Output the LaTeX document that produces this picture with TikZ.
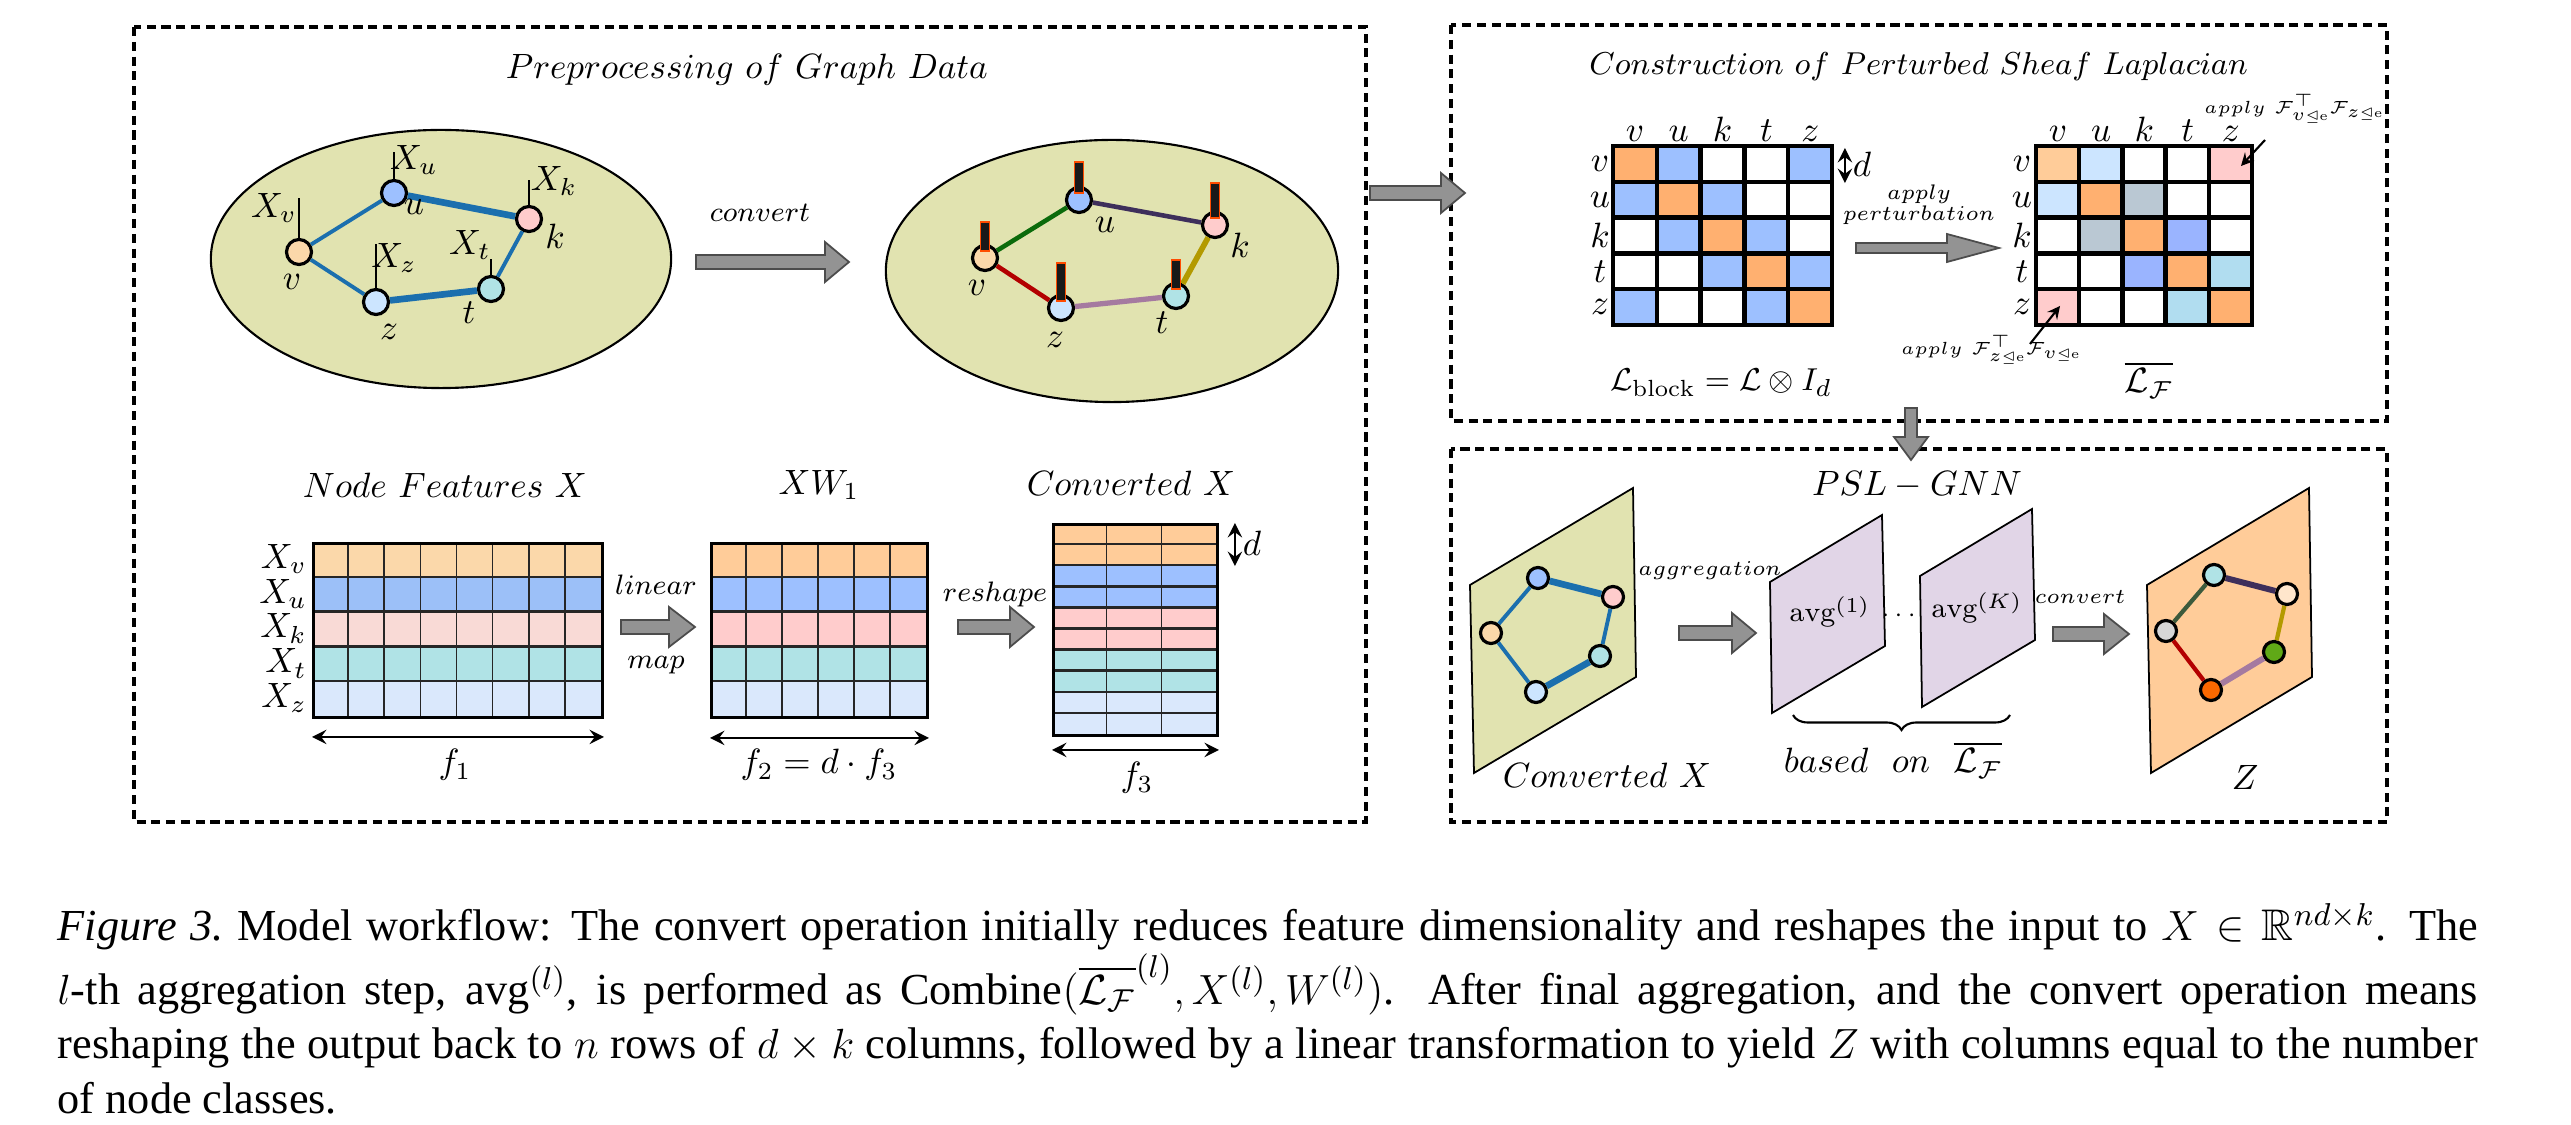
\documentclass[tikz,border=0pt]{standalone}
\usepackage{amsmath,amssymb}
\usepackage{fontspec}
\newfontfamily\capfont{Liberation Serif}
\usetikzlibrary{decorations.pathreplacing}

\definecolor{meadow}{HTML}{E1E3B0}
\definecolor{lilac}{HTML}{E1D5E7}
\definecolor{peach}{HTML}{FFCC99}
\definecolor{peachlt}{HTML}{FBD8AA}
\definecolor{skyblue}{HTML}{9DC0FF}
\definecolor{skybluelt}{HTML}{9CC0F8}
\definecolor{rose}{HTML}{FFCCCC}
\definecolor{roselt}{HTML}{F9DAD6}
\definecolor{aqua}{HTML}{B0E3E6}
\definecolor{ice}{HTML}{DAE8FC}
\definecolor{icelt}{HTML}{CCE5FF}
\definecolor{lapdiag}{HTML}{FFB070}
\definecolor{slate}{HTML}{BAC8D3}
\definecolor{periwinkle}{HTML}{9AB4FF}
\definecolor{cyanlt}{HTML}{B1DDF0}
\definecolor{edgeblue}{HTML}{1B6FAE}
\definecolor{arrowgray}{HTML}{939393}
\definecolor{egreen}{HTML}{0B6B0B}
\definecolor{egreengray}{HTML}{3C5A3C}
\definecolor{epurple}{HTML}{3E2F5B}
\definecolor{egold}{HTML}{B39A00}
\definecolor{emauve}{HTML}{A57AA0}
\definecolor{ered}{HTML}{B30000}
\definecolor{peachpale}{HTML}{FFE6CC}
\definecolor{greylt}{HTML}{D6D6D6}
\definecolor{leaf}{HTML}{60A917}
\definecolor{tangerine}{HTML}{FA6800}

% block arrow: start x, tip x, mid y, head start x, shaft half, head half
\newcommand{\blockarrow}[6]{%
  \filldraw[blockarrow] (#1,#3-#5) -- (#4,#3-#5) -- (#4,#3-#6) -- (#2,#3)
    -- (#4,#3+#6) -- (#4,#3+#5) -- (#1,#3+#5) -- cycle;}

\begin{document}
\begin{tikzpicture}[x=0.01cm,y=-0.01cm,>=stealth,
    font=\fontsize{10}{12}\selectfont,
    panel/.style={draw,line width=0.9pt,dash pattern=on 2.6pt off 1.6pt},
    gnode/.style={circle,draw,line width=0.9pt,minimum size=0.25cm,inner sep=0pt},
    snode/.style={circle,draw,line width=0.9pt,minimum size=0.21cm,inner sep=0pt},
    blockarrow/.style={fill=arrowgray,draw=black!70,line width=0.5pt},
    cell/.style={draw=black!85,line width=0.7pt},
    thincell/.style={draw=black!85,line width=0.45pt},
    lapcell/.style={draw=black,line width=1.3pt},
    mat/.style={draw,line width=0.8pt,anchor=north west,inner sep=0pt},
    smalltxt/.style={font=\fontsize{8.5}{10}\selectfont},
    tinytxt/.style={font=\fontsize{6}{7}\selectfont},
    pertxt/.style={font=\fontsize{5.6}{7}\selectfont},
    notetxt/.style={font=\fontsize{5.4}{7}\selectfont},
    sheaf/.style={fill=black!90,draw=orange!60!red,line width=0.5pt}]
\useasboundingbox (0,0) rectangle (2571,1125);

% panels
\draw[panel] (134,27) rectangle (1366,822);
\draw[panel] (1451,25) rectangle (2387,421);
\draw[panel] (1451,449) rectangle (2387,822);

\node (prepTitle) at (747,70) {$Preprocessing~of~Graph~Data$};
\node[font=\fontsize{9.5}{11}\selectfont] (lapTitle) at (1919,67) {$Construction~of~Perturbed~Sheaf~Laplacian$};
\node (gnnTitle) at (1917,485) {$PSL-GNN$};

% ---- input graph
\filldraw[fill=meadow,draw=black,line width=0.6pt] (441,259) ellipse [x radius=2.30cm,y radius=1.29cm];
\foreach \n/\x/\y/\c in {v/299/252/peachlt,u/394/193/skyblue,k/529/219/rose,z/376/302/icelt,t/491/289/aqua}
  \node[gnode,fill=\c] (a\n) at (\x,\y) {};
\draw[edgeblue,line width=1.1pt] (av) -- (au);
\draw[edgeblue,line width=1.9pt] (au) -- (ak);
\draw[edgeblue,line width=1.1pt] (ak) -- (at);
\draw[edgeblue,line width=1.9pt] (at) -- (az);
\draw[edgeblue,line width=1.1pt] (az) -- (av);
\foreach \n/\h in {v/40,u/27,k/25,z/44,t/16}
  \draw[line width=0.5pt] (a\n.north) -- ++(0,-\h);
\node (xv) at (274,208) {$X_v$};
\node (xu) at (414,160) {$X_u$};
\node (xk) at (554,181) {$X_k$};
\node (xz) at (394,258) {$X_z$};
\node (xt) at (470,245) {$X_t$};
\node (lv) at (292,282) {$v$};
\node (lu) at (414,207) {$u$};
\node (lk) at (555,236) {$k$};
\node (lz) at (389,332) {$z$};
\node (lt) at (469,313) {$t$};

\node[smalltxt] (convTop) at (760,213) {$convert$};
\blockarrow{696}{849}{262}{825}{7}{20}

% ---- sheaf graph
\filldraw[fill=meadow,draw=black,line width=0.6pt] (1112,271) ellipse [x radius=2.26cm,y radius=1.31cm];
\foreach \n/\x/\y/\c in {v/985/258/peachlt,u/1079/200/skyblue,k/1215/225/rose,z/1061/308/icelt,t/1176/296/aqua}
  \node[gnode,fill=\c] (b\n) at (\x,\y) {};
\draw[egreen,line width=1.3pt] (bv) -- (bu);
\draw[epurple,line width=1.3pt] (bu) -- (bk);
\draw[egold,line width=1.6pt] (bk) -- (bt);
\draw[emauve,line width=1.5pt] (bt) -- (bz);
\draw[ered,line width=1.3pt] (bz) -- (bv);
\foreach \x/\y/\h in {1079/200/31,1215/225/35,985/258/29,1061/308/38,1176/296/29}
  \draw[sheaf] (\x-4.5,\y-7) rectangle (\x+4.5,\y-7-\h);
\node (mv) at (977,288) {$v$};
\node (mu) at (1105,225) {$u$};
\node (mk) at (1240,245) {$k$};
\node (mz) at (1055,340) {$z$};
\node (mt) at (1162,323) {$t$};

% ---- feature matrices
\node (featTitle) at (445,485) {$Node~Features~X$};
\node (xwTitle) at (819,485) {$XW_1$};
\node (convTitle) at (1131,483) {$Converted~X$};

\foreach \c [count=\r from 0] in {peachlt,skybluelt,roselt,aqua,ice}
  \fill[\c] (312,{542+\r*34.8}) rectangle (601,{542+(\r+1)*34.8});
\foreach \r in {1,...,4} \draw[cell] (312,{542+\r*34.8}) -- (601,{542+\r*34.8});
\foreach \i in {1,...,7} \draw[thincell] ({312+\i*36.125},542) -- ({312+\i*36.125},716);
\node[mat,minimum width=2.89cm,minimum height=1.74cm] (featX) at (312,542) {};
\foreach \l [count=\r from 0] in {v,u,k,t,z}
  \node[anchor=east,inner sep=1pt] (row\l) at (311,{559+\r*34.8}) {$X_\l$};
\draw[<->,line width=0.8pt] ([yshift=-0.18cm]featX.south west) -- ([yshift=-0.18cm]featX.south east);
\node (fone) at (455,765) {$f_1$};

\node[smalltxt] (linTxt) at (656,585) {$linear$};
\node[smalltxt] (mapTxt) at (656,665) {$map$};
\blockarrow{621}{695}{627}{669}{7}{20}

\foreach \c [count=\r from 0] in {peach,skyblue,rose,aqua,ice}
  \fill[\c] (710,{542+\r*34.8}) rectangle (926,{542+(\r+1)*34.8});
\foreach \r in {1,...,4} \draw[cell] (710,{542+\r*34.8}) -- (926,{542+\r*34.8});
\foreach \i in {1,...,5} \draw[thincell] ({710+\i*36},542) -- ({710+\i*36},716);
\node[mat,minimum width=2.16cm,minimum height=1.74cm] (featXW) at (710,542) {};
\draw[<->,line width=0.8pt] ([yshift=-0.19cm]featXW.south west) -- ([yshift=-0.19cm]featXW.south east);
\node (ftwo) at (819,765) {$f_2=d\cdot f_3$};

\node[smalltxt] (reshTxt) at (995,594) {$reshape$};
\blockarrow{958}{1034}{627}{1010}{7}{20}

\foreach \c [count=\r from 0] in {peach,peach,skyblue,skyblue,rose,rose,aqua,aqua,ice,ice}
  \fill[\c] (1052,{523+\r*21.1}) rectangle (1216,{523+(\r+1)*21.1});
\foreach \r in {1,...,9} \draw[cell] (1052,{523+\r*21.1}) -- (1216,{523+\r*21.1});
\foreach \i in {1,2} \draw[thincell] ({1052+\i*54.67},523) -- ({1052+\i*54.67},734);
\node[mat,minimum width=1.64cm,minimum height=2.11cm] (featConv) at (1052,523) {};
\draw[<->,line width=0.8pt] ([xshift=0.16cm]featConv.north east) -- ([xshift=0.16cm,yshift=-0.43cm]featConv.north east);
\node (dconv) at (1252,543) {$d$};
\draw[<->,line width=0.8pt] ([yshift=-0.13cm]featConv.south west) -- ([yshift=-0.13cm]featConv.south east);
\node (fthree) at (1137,778) {$f_3$};

% ---- arrow into the sheaf Laplacian panel
\blockarrow{1370}{1465}{193}{1441}{7}{20}

% ---- sheaf Laplacians
\foreach \row [count=\i from 0] in {{lapdiag,skyblue,white,white,skyblue},{skyblue,lapdiag,skyblue,white,white},{white,skyblue,lapdiag,skyblue,white},{white,white,skyblue,lapdiag,skyblue},{skyblue,white,white,skyblue,lapdiag}}
  \foreach \c [count=\j from 0] in \row
    \filldraw[fill=\c,lapcell] ({1613+\j*43.8},{146+\i*35.8}) rectangle ++(43.8,35.8);
\node[mat,draw=none,minimum width=2.19cm,minimum height=1.79cm] (lapBlock) at (1613,146) {};
\foreach \l [count=\j from 0] in {v,u,k,t,z} {
  \node[anchor=base] (bcol\j) at ({1635+\j*43.8},142) {$\l$};
  \node (brow\j) at (1600,{164+\j*35.8}) {$\l$};
}
\draw[<->,line width=0.8pt] ([xshift=0.1cm,yshift=-0.02cm]lapBlock.north east) -- ([xshift=0.1cm,yshift=-0.37cm]lapBlock.north east);
\node (dlap) at (1862,164) {$d$};
\node[font=\fontsize{9.5}{11}\selectfont] (blockTxt) at (1721,383) {$\mathcal{L}_{\mathrm{block}}=\mathcal{L}\otimes I_d$};

\node[pertxt] (applyTxt) at (1919,194) {$apply$};
\node[pertxt] (pertTxt) at (1919,215) {$perturbation$};
\blockarrow{1856}{1999}{248}{1947}{5}{14}

\foreach \row [count=\i from 0] in {{peach,icelt,white,white,rose},{icelt,lapdiag,slate,white,white},{white,slate,lapdiag,periwinkle,white},{white,white,periwinkle,lapdiag,cyanlt},{rose,white,white,cyanlt,lapdiag}}
  \foreach \c [count=\j from 0] in \row
    \filldraw[fill=\c,lapcell] ({2036+\j*43.2},{146+\i*35.8}) rectangle ++(43.2,35.8);
\foreach \l [count=\j from 0] in {v,u,k,t,z} {
  \node[anchor=base] (pcol\j) at ({2058+\j*43.2},142) {$\l$};
  \node (prow\j) at (2022,{164+\j*35.8}) {$\l$};
}
\node (lapF) at (2149,380) {$\overline{\mathcal{L}_{\mathcal{F}}}$};

\node[notetxt] (noteTop) at (2294,109) {$apply~\mathcal{F}^{\top}_{v\trianglelefteq \mathrm{e}}\mathcal{F}_{z\trianglelefteq \mathrm{e}}$};
\node[notetxt] (noteBot) at (1991,350) {$apply~\mathcal{F}^{\top}_{z\trianglelefteq \mathrm{e}}\mathcal{F}_{v\trianglelefteq \mathrm{e}}$};
\coordinate (cellvz) at (2241,166);
\coordinate (cellzv) at (2060,306);
\draw[->,line width=0.6pt] (noteTop) ++(-29,31) -- (cellvz);
\draw[->,line width=0.6pt] (noteBot) ++(39,-6) -- (cellzv);

% ---- down into the GNN panel
\filldraw[blockarrow] (1905,408) -- (1917,408) -- (1917,437) -- (1928,437) -- (1911,460)
  -- (1894,437) -- (1905,437) -- cycle;

% ---- PSL-GNN
\filldraw[fill=meadow,draw=black,line width=0.5pt] (1474,773) -- (1470,585) -- (1633,488) -- (1636,677) -- cycle;
\foreach \n/\x/\y/\c in {v/1491/633/peachlt,u/1538/578/skyblue,k/1613/597/rose,z/1536/692/icelt,t/1600/656/aqua}
  \node[snode,fill=\c] (c\n) at (\x,\y) {};
\draw[edgeblue,line width=1.1pt] (cv) -- (cu);
\draw[edgeblue,line width=1.9pt] (cu) -- (ck);
\draw[edgeblue,line width=1.1pt] (ck) -- (ct);
\draw[edgeblue,line width=1.9pt] (ct) -- (cz);
\draw[edgeblue,line width=1.1pt] (cz) -- (cv);
\node (convXTxt) at (1607,775) {$Converted~X$};

\node[tinytxt] (aggTxt) at (1710,571) {$aggregation$};
\blockarrow{1679}{1756}{633}{1732}{7}{20}

\filldraw[fill=lilac,draw=black,line width=0.5pt] (1772,713) -- (1770,582) -- (1882,515) -- (1885,646) -- cycle;
\filldraw[fill=lilac,draw=black,line width=0.5pt] (1922,707) -- (1920,576) -- (2032,509) -- (2035,640) -- cycle;
\node[font=\fontsize{8}{10}\selectfont] (avgOne) at (1830,612) {$\mathrm{avg}^{(1)}$};
\node[font=\fontsize{8}{10}\selectfont] (avgK) at (1977,608) {$\mathrm{avg}^{(K)}$};
\node[font=\fontsize{7}{9}\selectfont] (dots) at (1901,616) {$\cdots$};
\draw[decorate,decoration={brace,mirror,amplitude=0.15cm},line width=0.6pt] (1793,715) -- (2010,715);
\node (basedTxt) at (1893,760) {$based~~on~~\overline{\mathcal{L}_{\mathcal{F}}}$};

\node[tinytxt] (convBot) at (2080,597) {$convert$};
\blockarrow{2053}{2129}{634}{2104}{7}{20}

\filldraw[fill=peach,draw=black,line width=0.5pt] (2151,773) -- (2147,585) -- (2309,488) -- (2312,677) -- cycle;
\foreach \n/\x/\y/\c in {v/2166/631/greylt,u/2214/575/aqua,k/2287/594/peachpale,z/2211/690/tangerine,t/2274/652/leaf}
  \node[snode,fill=\c] (d\n) at (\x,\y) {};
\draw[egreengray,line width=1.2pt] (dv) -- (du);
\draw[epurple,line width=1.7pt] (du) -- (dk);
\draw[egold,line width=1.2pt] (dk) -- (dt);
\draw[emauve,line width=1.7pt] (dt) -- (dz);
\draw[ered,line width=1.2pt] (dz) -- (dv);
\node (zTxt) at (2245,777) {$Z$};

% ---- caption
\node[anchor=north west,inner sep=0pt,text width=24.19cm,align=justify,
  font=\capfont\fontsize{12.6}{15.5}\selectfont] (caption) at (57,903) {%
  \textit{Figure 3.}\ Model workflow: The convert operation initially reduces feature dimensionality and reshapes the input to $X \in \mathbb{R}^{nd\times k}$. The\linebreak
  $l$-th aggregation step, $\text{avg}^{(l)}$, is performed as $\text{Combine}(\overline{\mathcal{L}_{\mathcal{F}}}^{(l)}, X^{(l)}, W^{(l)})$. After final aggregation, and the convert operation means\linebreak
  reshaping the output back to $n$ rows of $d\times k$ columns, followed by a linear transformation to yield $Z$ with columns equal to the number\linebreak
  of node classes.};
\end{tikzpicture}
\end{document}
